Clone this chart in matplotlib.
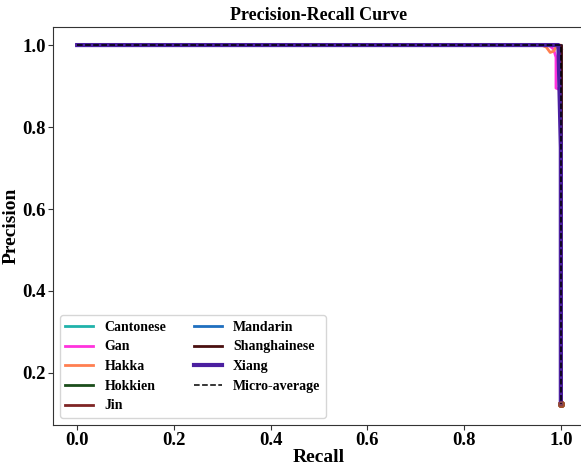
import matplotlib
matplotlib.use("Agg")
import matplotlib.pyplot as plt

plt.rcParams['font.family'] = ['Liberation Serif', 'DejaVu Serif']
plt.rcParams['font.weight'] = 'bold'

# per-dialect PR curves (recall, precision)
classes = ['Cantonese', 'Gan', 'Hakka', 'Hokkien', 'Jin',
           'Mandarin', 'Shanghainese', 'Xiang']
colors = ['#20b2aa', '#ff33dd', '#ff7f50', '#1b4d1b', '#7f2525',
          '#1f6fbf', '#4a0f0f', '#4b1fa0']

recall = {
    'Cantonese':    [0.0, 0.995, 1.0, 1.0],
    'Gan':          [0.0, 0.975, 0.985, 0.99, 0.99, 1.0, 1.0],
    'Hakka':        [0.0, 0.96, 0.97, 0.978, 0.985, 0.99, 1.0, 1.0],
    'Hokkien':      [0.0, 0.995, 1.002, 1.0, 1.0],
    'Jin':          [0.0, 0.995, 1.0, 1.0],
    'Mandarin':     [0.0, 0.995, 1.0, 1.0],
    'Shanghainese': [0.0, 0.995, 1.0, 1.0],
    'Xiang':        [0.0, 0.995, 1.0, 1.0],
}
precision = {
    'Cantonese':    [1.0, 1.0, 1.0, 0.125],
    'Gan':          [1.0, 1.0, 0.99, 0.97, 0.895, 0.89, 0.125],
    'Hakka':        [1.0, 1.0, 0.995, 0.982, 0.985, 0.995, 1.0, 0.125],
    'Hokkien':      [1.0, 1.0, 0.99, 0.99, 0.125],
    'Jin':          [1.0, 1.0, 1.0, 0.125],
    'Mandarin':     [1.0, 1.0, 1.0, 0.125],
    'Shanghainese': [1.0, 1.0, 1.0, 0.125],
    'Xiang':        [1.0, 1.0, 0.75, 0.125],
}
micro_recall = [0.0, 0.995, 1.0, 1.0]
micro_precision = [1.0, 1.0, 1.0, 0.125]

fig = plt.figure(figsize=(5.81, 4.66), dpi=100)
ax = fig.add_axes([0.0912, 0.088, 0.9157, 0.854])

for name, c in zip(classes, colors):
    lw = 3 if name == 'Xiang' else 2
    ax.plot(recall[name], precision[name], color=c, lw=lw, label=name)
    ax.plot(recall[name][-1], precision[name][-1], 'o', color='#a0522d',
            ms=4, alpha=0.6)
ax.plot(micro_recall, micro_precision, 'k--', lw=1.1, label='Micro-average')

ax.set_xlim(-0.05, 1.05)
ax.set_ylim(0.073, 1.044)
ax.set_xticks([0.0, 0.2, 0.4, 0.6, 0.8, 1.0])
ax.set_yticks([0.2, 0.4, 0.6, 0.8, 1.0])
ax.tick_params(labelsize=13.5, colors='#333333', labelcolor='black', pad=1.5)
for s in ax.spines.values():
    s.set_color('#333333')

ax.set_xlabel('Recall', fontsize=14, fontweight='bold', labelpad=0)
ax.set_ylabel('Precision', fontsize=14, fontweight='bold', labelpad=2)
ax.set_title('Precision-Recall Curve', fontsize=13, fontweight='bold', pad=5)
ax.legend(loc='lower left', ncol=2, prop={'weight': 'bold', 'size': 10},
          handlelength=2.0, handletextpad=0.8, labelspacing=0.48,
          columnspacing=2.0, borderaxespad=0.5)

fig.savefig('out.png', dpi=100)
